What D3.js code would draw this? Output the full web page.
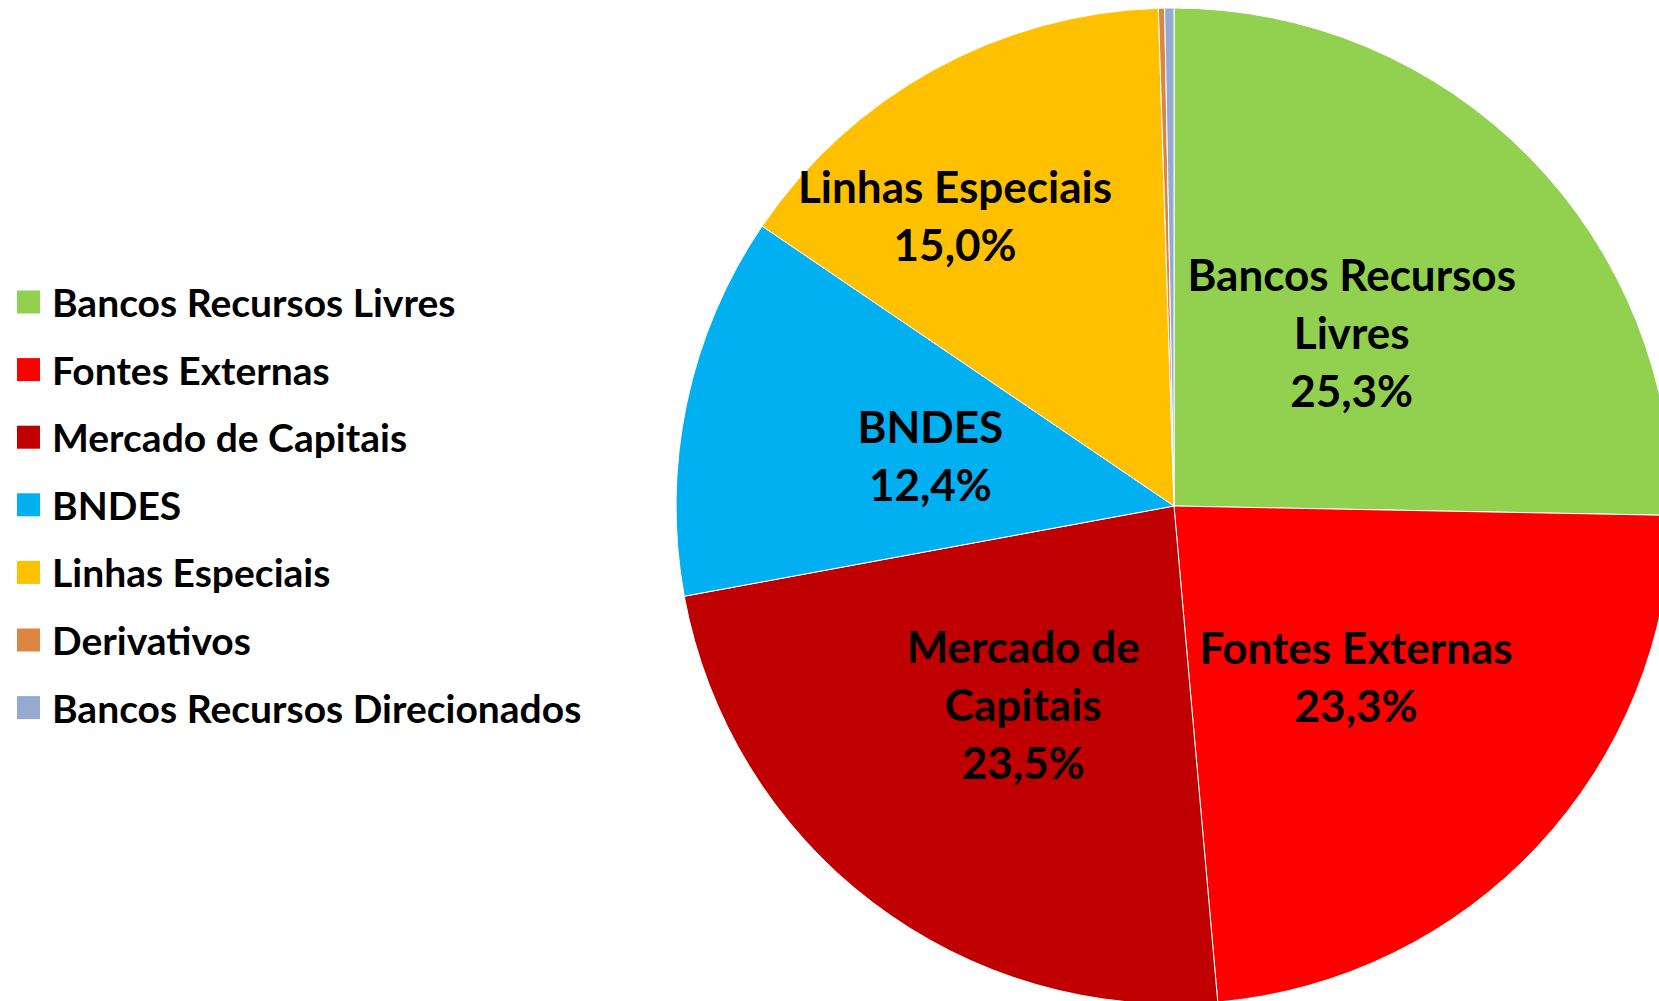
<!DOCTYPE html>
<html>
<head>
<meta charset="utf-8">
<script src="https://cdn.jsdelivr.net/npm/d3@7"></script>
<style>
  html, body { margin: 0; padding: 0; background: #fff; overflow: hidden; }
  svg { display: block; }
  text { font-family: Lato, "Open Sans", sans-serif; font-weight: 700; fill: #000; }
</style>
</head>
<body>
<svg id="chart" width="1659" height="1001"></svg>
<script>
// Data
const categories = ["Bancos Recursos Livres", "Fontes Externas", "Mercado de Capitais", "BNDES", "Linhas Especiais", "Derivativos", "Bancos Recursos Direcionados"];
const values = [25.3, 23.3, 23.5, 12.4, 15.0, 0.2, 0.3];
const colors = ["#92D050", "#FF0000", "#C00000", "#00B0F0", "#FFC000", "#DD8642", "#95AAD3"];
// label text lines (shown only for the large slices)
const labelLines = [
  ["Bancos Recursos", "Livres", "25,3%"],
  ["Fontes Externas", "23,3%"],
  ["Mercado de", "Capitais", "23,5%"],
  ["BNDES", "12,4%"],
  ["Linhas Especiais", "15,0%"],
  [],
  []
];

const W = 1659, H = 1001;
const cx = 1174, cy = 506, R = 498;
const svg = d3.select("#chart");

const data = categories.map((c, i) => ({ name: c, value: values[i], color: colors[i], lines: labelLines[i] }));

const pie = d3.pie().value(d => d.value).sort(null);
const arcs = pie(data);
const arc = d3.arc().innerRadius(0).outerRadius(R);

const g = svg.append("g").attr("transform", `translate(${cx},${cy})`);
g.selectAll("path.slice").data(arcs).join("path")
  .attr("class", "slice")
  .attr("d", arc)
  .attr("fill", d => d.data.color)
  .attr("stroke", "#ffffff")
  .attr("stroke-width", 1);

// labels at arc centroid, Linhas Especiais nudged like the original
const nudge = { "Linhas Especiais": [-99, -73] };
const lineH = 58;
const lbl = g.selectAll("g.lbl").data(arcs.filter(d => d.data.lines.length)).join("g")
  .attr("class", "lbl")
  .attr("transform", d => {
    const c = arc.centroid(d);
    const n = nudge[d.data.name] || [0, 0];
    return `translate(${c[0] + n[0]},${c[1] + n[1]})`;
  });
lbl.each(function(d) {
  const n = d.data.lines.length;
  d3.select(this).selectAll("text").data(d.data.lines).join("text")
    .attr("text-anchor", "middle")
    .attr("dominant-baseline", "central")
    .attr("y", (t, i) => (i - (n - 1) / 2) * lineH)
    .style("font-size", "44px")
    .text(t => t);
});

// legend
const legend = svg.append("g").attr("transform", "translate(17,302)");
const rowH = 67.6;
const items = legend.selectAll("g").data(data).join("g")
  .attr("transform", (d, i) => `translate(0,${i * rowH})`);
items.append("rect")
  .attr("x", 0).attr("y", -11.5).attr("width", 23).attr("height", 23)
  .attr("fill", d => d.color);
items.append("text")
  .attr("x", 35).attr("y", 0)
  .attr("dominant-baseline", "central")
  .style("font-size", "39px")
  .text(d => d.name);
</script>
</body>
</html>
